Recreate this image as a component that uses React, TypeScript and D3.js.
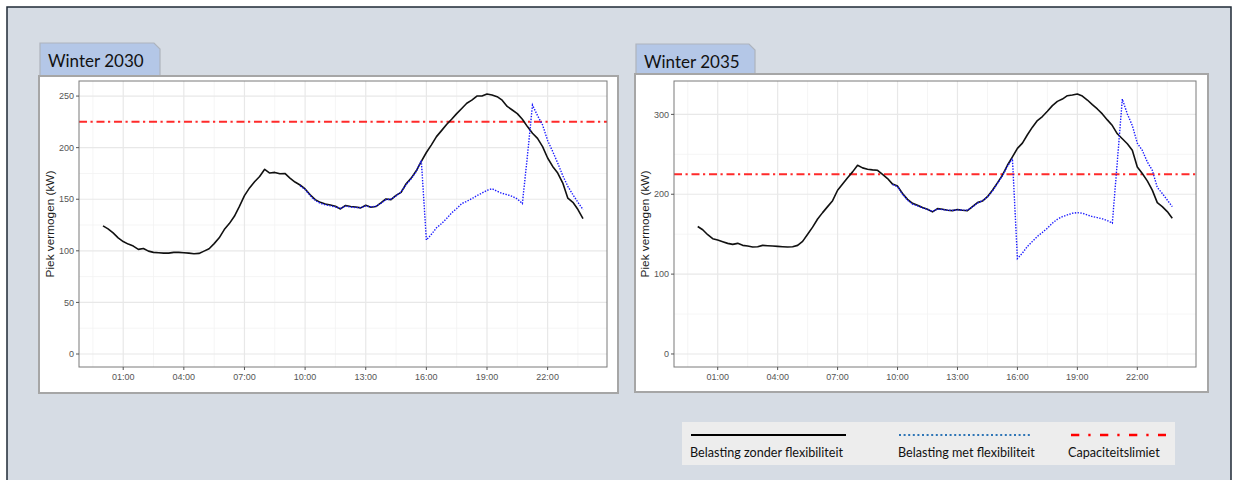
import React from 'react';
import * as d3 from 'd3';

// ---------- data ----------
const quarterHours: number[] = d3.range(96).map((i) => i / 4);
const xTickHours = [1, 4, 7, 10, 13, 16, 19, 22];
const xTickLabels = ['01:00', '04:00', '07:00', '10:00', '13:00', '16:00', '19:00', '22:00'];
const xMinorHours = [-0.5, 2.5, 5.5, 8.5, 11.5, 14.5, 17.5, 20.5, 23.5];
const capacityLimit = 225;
const flexStartIndex = 39; // 09:45

const load2030 = [
  124.2, 121.3, 117.4, 112.6, 109, 106.5, 104.6, 101.4, 102.3, 99.7, 98.5, 98.1,
  97.8, 97.8, 98.5, 98.5, 98.1, 97.8, 97.2, 97.5, 99.7, 102, 107, 112.6,
  120.6, 126.4, 133.5, 143, 153.5, 161, 167, 172, 179, 175.4, 176, 174.7,
  175, 170.5, 166.7, 163.8, 160, 154.4, 149.6, 147, 145.4, 144.5, 143.2, 140.6,
  144, 142.9, 142.5, 141.6, 144.1, 142.2, 142.9, 146.4, 150.3, 149.6, 153.8, 156.7,
  165, 170.5, 177.6, 186.6, 195.3, 202.7, 210.7, 216.5, 222.5, 227.5, 233, 238,
  243, 246, 250, 250, 252, 251, 249.4, 246, 240, 236.5, 233, 227.5,
  220.4, 214, 209, 201, 190, 181.8, 175.4, 165.7, 151, 147, 140, 131.3,
];
const flex2030 = [
  163, 159.5, 153.5, 148.8, 146, 144.6, 143.6, 142.5, 141.2, 143.3, 142.4, 142,
  141.8, 143.4, 142.6, 143.2, 146, 149.5, 150.2, 153.2, 157.2, 164.2, 169.8, 177,
  187.6, 110.4, 116, 122.3, 126.4, 131.3, 136.7, 141, 145.8, 148, 150.6, 153.5,
  156, 158.6, 160.2, 157.7, 155.7, 154.4, 152.8, 150.3, 145.8, 192, 241.3, 231,
  222, 206.9, 196.3, 185, 172.8, 162.5, 154.4, 147, 140,
];
const load2035 = [
  159.6, 155.5, 149.3, 144.3, 142.6, 140.5, 138.5, 137.2, 138.5, 136, 135.2, 133.9,
  134.3, 136, 135.6, 135.2, 134.7, 134.3, 133.9, 134.3, 136, 141, 150, 158.8,
  169, 177, 184.5, 192, 205, 212.7, 220.6, 228, 236.3, 233, 231.3, 230.5,
  230, 225, 219.7, 212.7, 210.2, 201, 193.6, 188.6, 186.2, 183.3, 181.2, 177.9,
  182, 181.2, 180, 179.5, 180.8, 180, 179.5, 184.5, 189.5, 191.5, 197, 205,
  214.3, 223.9, 236.3, 246.7, 257.5, 264, 274.5, 284, 292.3, 297.3, 303.9, 311,
  316.3, 319.2, 323.4, 324.2, 325.5, 323, 318, 312.2, 306.8, 300.6, 293.1, 286,
  275.7, 269.5, 263.3, 255, 234.2, 226, 216.8, 205.2, 189.5, 184.5, 178.3, 170,
];
const flex2035 = [
  212, 209.5, 200, 192.5, 187.5, 185.5, 183, 181, 178.5, 181.5, 180.8, 180,
  179.8, 180.5, 180.2, 180, 184, 189, 192, 196.5, 204, 213.5, 223, 235,
  244.6, 119.5, 126.4, 134.7, 141, 147.2, 152.2, 157.5, 163.8, 168.7, 172, 174.1,
  176.2, 177, 176.2, 174.1, 172, 170.8, 169.2, 167, 163.8, 241, 319.2, 300.6,
  286, 264, 255, 240.5, 230, 208.5, 201, 192.8, 184.5,
];
const yTicks2030 = [0, 50, 100, 150, 200, 250];
const yMinor2030 = [25, 75, 125, 175, 225];
const yTicks2035 = [0, 100, 200, 300];
const yMinor2035 = [50, 150, 250];
const legendLabels = ['Belasting zonder flexibiliteit', 'Belasting met flexibiliteit', 'Capaciteitslimiet'];

const W = 1237;
const H = 480;
const AXIS_FONT = "'Liberation Sans', Arial, sans-serif";
const OFFICE_FONT = "Lato, 'Open Sans', sans-serif";

type Rect = { l: number; t: number; r: number; b: number };

function Panel(props: {
  title: string;
  tab: Rect;
  box: Rect;
  plot: Rect;
  yDomain: [number, number];
  yTicks: number[];
  yMinor: number[];
  load: number[];
  flex: number[];
}) {
  const { title, tab, box, plot, yDomain, yTicks, yMinor, load, flex } = props;
  const x = d3.scaleLinear().domain([-1.1875, 24.9375]).range([plot.l, plot.r]);
  const y = d3.scaleLinear().domain(yDomain).range([plot.b, plot.t]);
  const line = d3
    .line<[number, number]>()
    .x((d) => x(d[0]))
    .y((d) => y(d[1]));
  const loadPts: [number, number][] = load.map((v, i) => [quarterHours[i], v]);
  const flexPts: [number, number][] = flex.map((v, i) => [quarterHours[i + flexStartIndex], v]);
  const cut = 6;
  const tabPath = `M${tab.l},${tab.b} L${tab.l},${tab.t} L${tab.r - cut},${tab.t} L${tab.r},${tab.t + cut} L${tab.r},${tab.b}`;
  const yMid = (plot.t + plot.b) / 2;
  return (
    <g>
      <rect x={box.l} y={box.t} width={box.r - box.l} height={box.b - box.t} fill="#ffffff" stroke="#a6a6a6" strokeWidth={2} />
      <path d={tabPath} fill="#b4c7e7" stroke="#aeb4bd" strokeWidth={1.2} />
      <text x={tab.l + 8} y={tab.t + 24} fontFamily={OFFICE_FONT} fontSize={17} fill="#111">
        {title}
      </text>
      {/* grid */}
      <rect x={plot.l} y={plot.t} width={plot.r - plot.l} height={plot.b - plot.t} fill="#ffffff" />
      {yMinor.map((v) => (
        <line key={'ym' + v} x1={plot.l} x2={plot.r} y1={y(v)} y2={y(v)} stroke="#f3f3f3" strokeWidth={0.8} />
      ))}
      {xMinorHours.map((h) => (
        <line key={'xm' + h} x1={x(h)} x2={x(h)} y1={plot.t} y2={plot.b} stroke="#f3f3f3" strokeWidth={0.8} />
      ))}
      {yTicks.map((v) => (
        <line key={'yg' + v} x1={plot.l} x2={plot.r} y1={y(v)} y2={y(v)} stroke="#e8e8e8" strokeWidth={1.2} />
      ))}
      {xTickHours.map((h) => (
        <line key={'xg' + h} x1={x(h)} x2={x(h)} y1={plot.t} y2={plot.b} stroke="#e8e8e8" strokeWidth={1.2} />
      ))}
      {/* series */}
      <line
        x1={plot.l}
        x2={plot.r}
        y1={y(capacityLimit)}
        y2={y(capacityLimit)}
        stroke="#ff2a2a"
        strokeWidth={2}
        strokeDasharray="8 3.5 2.2 3.8"
      />
      <path d={line(loadPts) || ''} fill="none" stroke="#111111" strokeWidth={1.6} strokeLinejoin="round" />
      <path d={line(flexPts) || ''} fill="none" stroke="#1a1aff" strokeWidth={1.4} strokeDasharray="1.4 1.4" />
      {/* border */}
      <rect x={plot.l} y={plot.t} width={plot.r - plot.l} height={plot.b - plot.t} fill="none" stroke="#7a7a7a" strokeWidth={1} />
      {/* y axis */}
      {yTicks.map((v) => (
        <g key={'yt' + v}>
          <line x1={plot.l - 3} x2={plot.l} y1={y(v)} y2={y(v)} stroke="#555" strokeWidth={1} />
          <text x={plot.l - 5} y={y(v) + 3.2} textAnchor="end" fontFamily={AXIS_FONT} fontSize={9} fill="#555">
            {v}
          </text>
        </g>
      ))}
      {xTickHours.map((h, i) => (
        <g key={'xt' + h}>
          <line x1={x(h)} x2={x(h)} y1={plot.b} y2={plot.b + 3} stroke="#555" strokeWidth={1} />
          <text x={x(h)} y={plot.b + 12.5} textAnchor="middle" fontFamily={AXIS_FONT} fontSize={9} fill="#555">
            {xTickLabels[i]}
          </text>
        </g>
      ))}
      <text
        transform={`translate(${plot.l - 25},${yMid}) rotate(-90)`}
        textAnchor="middle"
        fontFamily={AXIS_FONT}
        fontSize={11.8}
        fill="#1a1a1a"
      >
        Piek vermogen (kW)
      </text>
    </g>
  );
}

export default function App() {
  return (
    <div style={{ position: 'absolute', left: 0, top: 0 }}>
      <svg width={W} height={H} viewBox={`0 0 ${W} ${H}`} style={{ display: 'block' }}>
        <rect x={0} y={0} width={W} height={H} fill="#ffffff" />
        <rect x={7} y={7} width={1224} height={480} fill="#d6dce4" stroke="#1f2a36" strokeWidth={1.5} />
        <Panel
          title="Winter 2030"
          tab={{ l: 40, t: 43, r: 160, b: 75 }}
          box={{ l: 39, t: 76, r: 618, b: 393 }}
          plot={{ l: 79, t: 81, r: 607, b: 367 }}
          yDomain={[-12.6, 264.6]}
          yTicks={yTicks2030}
          yMinor={yMinor2030}
          load={load2030}
          flex={flex2030}
        />
        <Panel
          title="Winter 2035"
          tab={{ l: 636, t: 44, r: 755, b: 73 }}
          box={{ l: 635, t: 74, r: 1208, b: 392 }}
          plot={{ l: 674, t: 81, r: 1196, b: 367 }}
          yDomain={[-16.3, 341.8]}
          yTicks={yTicks2035}
          yMinor={yMinor2035}
          load={load2035}
          flex={flex2035}
        />
        {/* legend */}
        <rect x={682} y={422} width={493} height={43} fill="#ededed" />
        <line x1={691} x2={846} y1={435} y2={435} stroke="#000" strokeWidth={2} />
        <line x1={899} x2={1031} y1={435} y2={435} stroke="#2e75b6" strokeWidth={2} strokeDasharray="2 2.6" />
        <line x1={1071} x2={1166} y1={435} y2={435} stroke="#ff0000" strokeWidth={2.5} strokeDasharray="8.3 9 2.3 9.4" />
        <text x={690} y={456.5} fontFamily={OFFICE_FONT} fontSize={12.6} fill="#111">
          {legendLabels[0]}
        </text>
        <text x={898} y={456.5} fontFamily={OFFICE_FONT} fontSize={12.6} fill="#111">
          {legendLabels[1]}
        </text>
        <text x={1068} y={456.5} fontFamily={OFFICE_FONT} fontSize={12.6} fill="#111">
          {legendLabels[2]}
        </text>
      </svg>
    </div>
  );
}
